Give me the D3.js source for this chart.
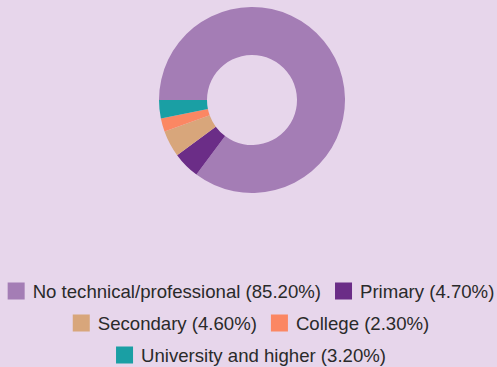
<!DOCTYPE html>
<html>
<head>
<meta charset="utf-8">
<script src="https://cdn.jsdelivr.net/npm/d3@7"></script>
<style>
  html, body { margin: 0; padding: 0; background: #e7d6eb; }
  svg { display: block; }
  text { font-family: "Liberation Sans", Arial, sans-serif; }
</style>
</head>
<body>
<svg id="chart" width="497" height="367"></svg>
<script>
// Education level shares
const categories = ["No technical/professional", "Primary", "Secondary", "College", "University and higher"];
const shares = [85.2, 4.7, 4.6, 2.3, 3.2];
const colors = ["#a47db5", "#6b2d87", "#d8a67b", "#fb8763", "#1a9fa4"];
const legendRows = [[0, 1], [2, 3], [4]];

const width = 497, height = 367;
const svg = d3.select("#chart");

svg.append("rect").attr("width", width).attr("height", height).attr("fill", "#e7d6eb");

const cx = 252, cy = 100, outerR = 93, innerR = 45;

const pie = d3.pie()
  .value(d => d.value)
  .sort(null)
  .startAngle(-Math.PI / 2)
  .endAngle(-Math.PI / 2 + 2 * Math.PI);

const data = categories.map((c, i) => ({ name: c, value: shares[i], color: colors[i] }));

const arc = d3.arc().innerRadius(innerR).outerRadius(outerR);

svg.append("g")
  .attr("transform", `translate(${cx},${cy})`)
  .selectAll("path")
  .data(pie(data))
  .join("path")
  .attr("d", arc)
  .attr("fill", d => d.data.color);

// Legend: centred rows of swatch + label
const fontSize = 18.6, swatch = 17, swatchGap = 8, itemGap = 14;
const rowY = [291, 323, 355];
const legendCenter = 251;
const fmt = v => `(${v.toFixed(2)}%)`;

legendRows.forEach((row, r) => {
  const g = svg.append("g");
  let x = 0;
  row.forEach((idx, k) => {
    const item = g.append("g").attr("transform", `translate(${x},0)`);
    item.append("rect")
      .attr("x", 0).attr("y", -swatch / 2)
      .attr("width", swatch).attr("height", swatch)
      .attr("fill", colors[idx]);
    const t = item.append("text")
      .attr("x", swatch + swatchGap)
      .attr("y", 0)
      .attr("dy", "0.35em")
      .attr("font-size", fontSize)
      .attr("fill", "#2a2a2a")
      .text(`${categories[idx]} ${fmt(shares[idx])}`);
    const w = t.node().getComputedTextLength();
    x += swatch + swatchGap + w + (k < row.length - 1 ? itemGap : 0);
  });
  g.attr("transform", `translate(${legendCenter - x / 2},${rowY[r]})`);
});
</script>
</body>
</html>
